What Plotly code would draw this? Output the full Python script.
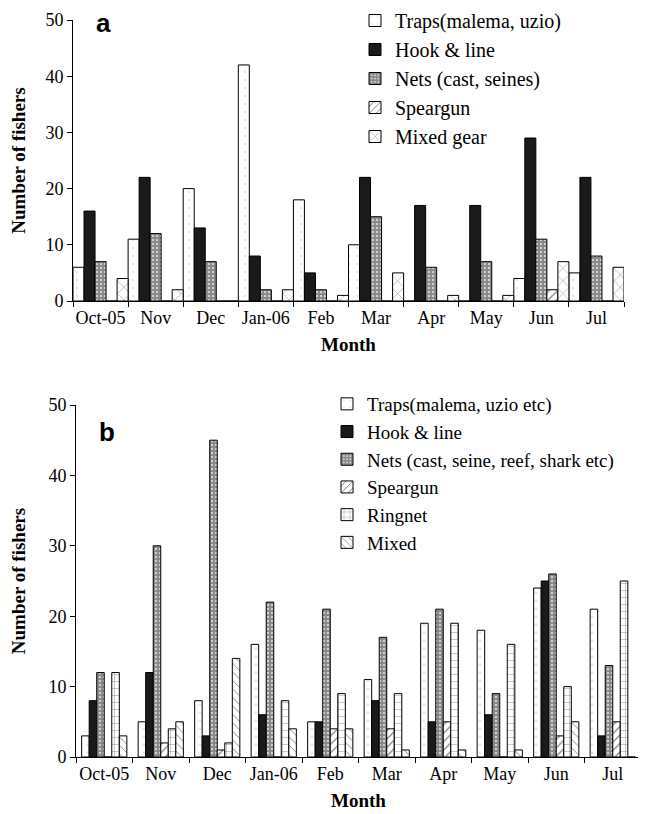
import plotly.graph_objects as go

months = ["Oct-05", "Nov", "Dec", "Jan-06", "Feb", "Mar", "Apr", "May", "Jun", "Jul"]

# panel a
a_traps = [6, 11, 20, 42, 18, 10, 0, 0, 4, 5]
a_hook = [16, 22, 13, 8, 5, 22, 17, 17, 29, 22]
a_nets = [7, 12, 7, 2, 2, 15, 6, 7, 11, 8]
a_spear = [0, 0, 0, 0, 0, 0, 0, 0, 2, 0]
a_mixed = [4, 2, 0, 2, 1, 5, 1, 1, 7, 6]

# panel b
b_traps = [3, 5, 8, 16, 5, 11, 19, 18, 24, 21]
b_hook = [8, 12, 3, 6, 5, 8, 5, 6, 25, 3]
b_nets = [12, 30, 45, 22, 21, 17, 21, 9, 26, 13]
b_spear = [0, 2, 1, 0, 4, 4, 5, 0, 3, 5]
b_ring = [12, 4, 2, 8, 9, 9, 19, 16, 10, 25]
b_mixed = [3, 5, 14, 4, 4, 1, 1, 1, 5, 0]

SERIF = "Times New Roman"
W, H = 646, 814
OFF = 8  # page body margin, figure sits 8px in from the window corner
L, R, T, B = 62, 5, 10, 57
PW, PH = W - L - R, H - T - B


def px(x):
    return (x - OFF - L) / PW


def py(y):
    return (H - B - (y - OFF)) / PH


styles = {
    "traps": dict(shape=".", fgcolor="#c4ccee", size=8, solidity=0.08),
    "hook": dict(shape=""),
    "nets": dict(shape=".", fgcolor="#111111", size=4, solidity=0.8),
    "spear": dict(shape="/", fgcolor="black", size=6, solidity=0.2),
    "mixed_a": dict(shape="x", fgcolor="black", size=9, solidity=0.1),
    "ring": dict(shape="+", fgcolor="black", size=7, solidity=0.12),
    "mixed_b": dict(shape="\\", fgcolor="black", size=6, solidity=0.15),
}


def add_bars(fig, series, xa, ya, legend, group_width, start):
    n = len(series)
    w = group_width / n
    for i, (name, vals, key) in enumerate(series):
        color = "#1a1a1a" if key == "hook" else "white"
        fig.add_trace(
            go.Bar(
                x=months,
                y=vals,
                name=name,
                xaxis=xa,
                yaxis=ya,
                legend=legend,
                width=w,
                offset=start + i * w,
                marker=dict(
                    color=color,
                    line=dict(color="black", width=1),
                    pattern=styles[key],
                ),
            )
        )


fig = go.Figure()

add_bars(
    fig,
    [
        ("Traps(malema, uzio)", a_traps, "traps"),
        ("Hook & line", a_hook, "hook"),
        ("Nets (cast, seines)", a_nets, "nets"),
        ("Speargun", a_spear, "spear"),
        ("Mixed gear", a_mixed, "mixed_a"),
    ],
    "x", "y", "legend", 1.0, -0.5,
)

add_bars(
    fig,
    [
        ("Traps(malema, uzio etc)", b_traps, "traps"),
        ("Hook & line", b_hook, "hook"),
        ("Nets (cast, seine, reef, shark etc)", b_nets, "nets"),
        ("Speargun", b_spear, "spear"),
        ("Ringnet", b_ring, "ring"),
        ("Mixed", b_mixed, "mixed_b"),
    ],
    "x2", "y2", "legend2", 0.8, -0.4,
)

xcommon = dict(
    type="category",
    tickson="boundaries",
    tickangle=0,
    range=[-0.5, 9.5],
    showline=True,
    linecolor="black",
    linewidth=1,
    ticks="outside",
    ticklen=5,
    tickcolor="black",
    showgrid=False,
    zeroline=False,
    automargin=False,
    tickfont=dict(size=18),
)
ycommon = dict(
    range=[0, 50],
    dtick=10,
    showline=True,
    linecolor="black",
    linewidth=1,
    ticks="outside",
    ticklen=5,
    tickcolor="black",
    showgrid=False,
    zeroline=False,
    automargin=False,
    tickfont=dict(size=18),
    title=dict(text="<b>Number of fishers</b>", font=dict(size=19), standoff=17),
)


def xtitle(standoff):
    return dict(text="<b>Month</b>", font=dict(size=19), standoff=standoff)


fig.update_layout(
    width=W,
    height=H,
    margin=dict(l=L, r=R, t=T, b=B, autoexpand=False),
    font=dict(family=SERIF, size=18, color="black"),
    plot_bgcolor="white",
    paper_bgcolor="white",
    barmode="overlay",
    xaxis=dict(xcommon, domain=[px(73), px(624)], anchor="y", title=xtitle(11)),
    yaxis=dict(ycommon, domain=[py(301), py(20)], anchor="x"),
    xaxis2=dict(xcommon, domain=[px(76), px(641)], anchor="y2", title=xtitle(11)),
    yaxis2=dict(ycommon, domain=[py(757), py(405)], anchor="x2"),
    legend=dict(
        x=px(355), y=py(1), xanchor="left", yanchor="top",
        font=dict(size=20),
        bgcolor="rgba(0,0,0,0)", tracegroupgap=0, itemwidth=30,
    ),
    legend2=dict(
        x=px(327), y=py(385), xanchor="left", yanchor="top",
        font=dict(size=19),
        bgcolor="rgba(0,0,0,0)", tracegroupgap=0, itemwidth=30,
    ),
    annotations=[
        dict(text="<b>a</b>", x=px(103), y=py(23), xref="paper", yref="paper",
             xanchor="center", yanchor="middle",
             showarrow=False, font=dict(family="Liberation Sans", size=26)),
        dict(text="<b>b</b>", x=px(107), y=py(432), xref="paper", yref="paper",
             xanchor="center", yanchor="middle",
             showarrow=False, font=dict(family="Liberation Sans", size=26)),
    ],
)

fig.write_html("out.html")
